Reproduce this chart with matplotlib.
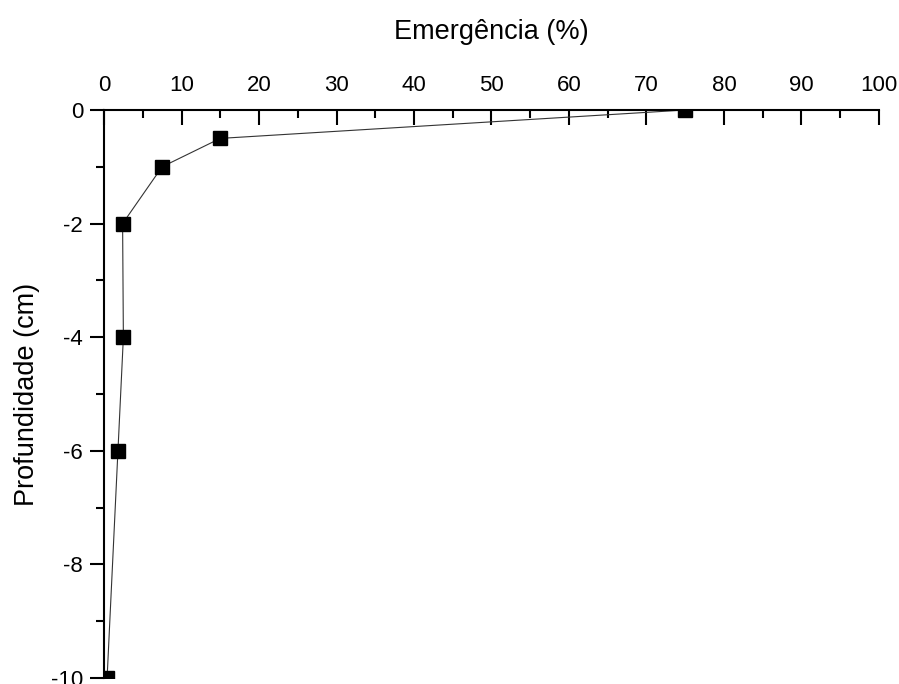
import matplotlib
matplotlib.use("Agg")
import matplotlib.pyplot as plt
from matplotlib.ticker import MultipleLocator

emergencia = [75, 15, 7.5, 2.4, 2.5, 1.8, 0.4]
profundidade = [0, -0.5, -1, -2, -4, -6, -10]
x_ticks = [0, 10, 20, 30, 40, 50, 60, 70, 80, 90, 100]
y_ticks = [0, -2, -4, -6, -8, -10]

plt.rcParams['font.family'] = ['Liberation Sans', 'DejaVu Sans']

fig = plt.figure(figsize=(8.99, 6.84), dpi=100)
ax = fig.add_axes([104/899, 1-678/684, (879-104)/899, (678-110)/684])

ax.plot(emergencia, profundidade, color='#333333', linewidth=0.8,
        marker='s', markersize=10, markerfacecolor='black',
        markeredgecolor='black', clip_on=True)

ax.set_xlim(0, 100)
ax.set_ylim(-10, 0)
ax.set_xticks(x_ticks)
ax.set_yticks(y_ticks)
ax.xaxis.set_minor_locator(MultipleLocator(5))
ax.yaxis.set_minor_locator(MultipleLocator(1))

ax.xaxis.tick_top()
ax.xaxis.set_label_position('top')
for s in ['right', 'bottom']:
    ax.spines[s].set_visible(False)
for s in ['left', 'top']:
    ax.spines[s].set_linewidth(1.5)

ax.tick_params(axis='x', which='major', direction='in', length=11, width=1.5,
               labelsize=16, pad=10)
ax.tick_params(axis='x', which='minor', direction='in', length=6, width=1.5)
ax.tick_params(axis='y', which='major', direction='out', length=10, width=1.5,
               labelsize=16, pad=5)
ax.tick_params(axis='y', which='minor', direction='out', length=6, width=1.5)

ax.set_yticklabels([str(v) for v in y_ticks])
ax.set_xlabel('Emergência (%)', fontsize=19.5, labelpad=26)
ax.set_ylabel('Profundidade (cm)', fontsize=19.5, labelpad=8)

fig.savefig('out.png', dpi=100)
